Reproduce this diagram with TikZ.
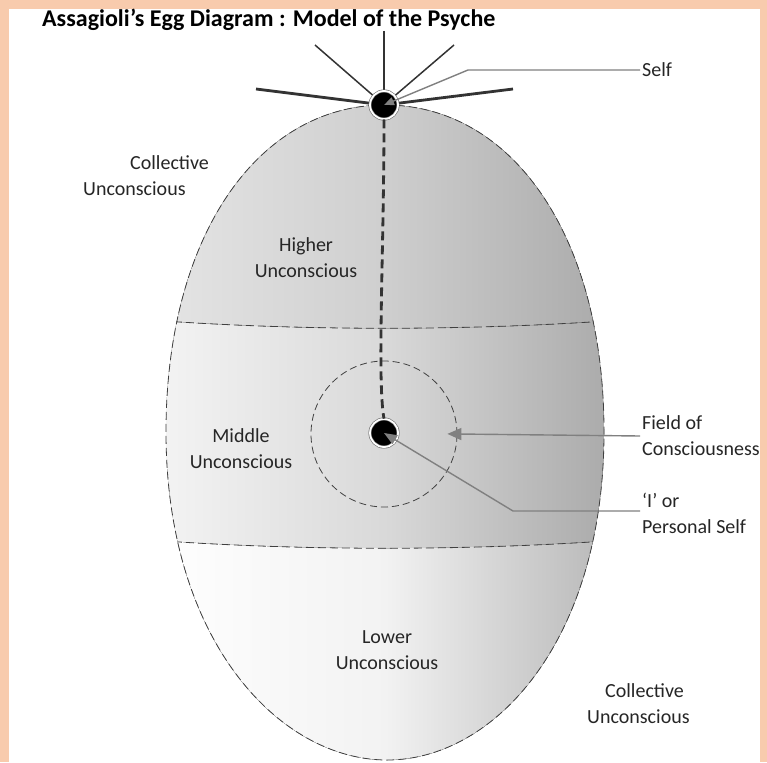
\documentclass[tikz,border=0pt]{standalone}
\usepackage{fontspec}
\setmainfont{Carlito}
\usetikzlibrary{arrows.meta}
\definecolor{peach}{RGB}{248,203,173}
\newcommand\eggoutline{(385,105) .. controls (512,105) and (604,236) .. (604,432)
  .. controls (604,640) and (495,760) .. (387,760)
  .. controls (279,760) and (166,640) .. (166,432)
  .. controls (166,236) and (258,105) .. (385,105) -- cycle}
\tikzset{
  zone/.style={font=\fontsize{20}{26}\selectfont, text=black!85, align=center, inner sep=0pt},
  side/.style={zone, align=left, anchor=west},
  leader/.style={draw=black!50, line width=1.4pt, -{Triangle[length=13pt,width=10pt]}},
  ray/.style={draw=black!80, line width=1.5pt},
  thickray/.style={draw=black!80, line width=2.8pt},
  dot/.style={circle, fill=black, draw=black!60, double=white, double distance=1.8pt,
    line width=0.6pt, minimum size=28pt, inner sep=0pt},
  divider/.style={draw=black!75, line width=0.8pt, dash pattern=on 8pt off 4pt}
}
\begin{document}
\begin{tikzpicture}[x=1pt, y=-1pt]
\useasboundingbox (0,0) rectangle (767,762);
\fill[peach] (0,0) rectangle (767,762);
\fill[white] (9,9) rectangle (760,762);

% shaded egg, three bands
\begin{scope}
\clip \eggoutline;
\fill[left color=gray!8, right color=gray!68, middle color=gray!30] (150,90) rectangle (620,770);
\fill[left color=gray!20, right color=gray!68, middle color=gray!38] (150,90) -- (620,90) -- (620,320)
  .. controls (470,331) and (300,331) .. (150,320) -- cycle;
\fill[left color=white, right color=gray!58, middle color=gray!10] (150,540)
  .. controls (300,551) and (470,551) .. (620,540) -- (620,770) -- (150,770) -- cycle;
\draw[divider] (150,320) .. controls (300,331) and (470,331) .. (620,320);
\draw[divider] (150,540) .. controls (300,551) and (470,551) .. (620,540);
\end{scope}
\draw[divider] \eggoutline;

\node[font=\bfseries\fontsize{24}{28}\selectfont, anchor=west, inner sep=0pt] (title) at (42,20)
  {Assagioli's Egg Diagram : Model of the Psyche};

% field of consciousness
\node[circle, draw=black!75, line width=0.8pt, dash pattern=on 7pt off 4pt,
  minimum size=146pt, inner sep=0pt] (field) at (384,434) {};

% rays round the Self
\coordinate (rayn) at (384,31);
\coordinate (raynw) at (315,45);
\coordinate (rayne) at (454,45);
\coordinate (rayw) at (256,89);
\coordinate (raye) at (513,89);
\coordinate (selfc) at (384,105);
\draw[ray] (rayn) -- (selfc);
\draw[ray] (raynw) -- (selfc);
\draw[ray] (rayne) -- (selfc);
\draw[thickray] (rayw) -- (selfc);
\draw[thickray] (raye) -- (selfc);

\node[dot] (self) at (selfc) {};
\node[dot] (i) at (384,433) {};
\draw[draw=black!80, line width=2.8pt, dash pattern=on 9pt off 5pt]
  (self.south) .. controls (384,250) and (377,380) .. (i.north);

% region labels
\node[side] (coltop) at (83,176) {\hspace*{47pt}Collective\\Unconscious};
\node[zone] (higher) at (306,258) {Higher\\Unconscious};
\node[zone] (middle) at (241,449) {Middle\\Unconscious};
\node[zone] (lower) at (387,650) {Lower\\Unconscious};
\node[side] (colbot) at (587,704) {\hspace*{18pt}Collective\\Unconscious};

% side labels and leaders
\node[side, inner xsep=2pt] (selflbl) at (640,70) {Self};
\node[side, inner xsep=2pt] (fieldlbl) at (640,436) {Field of\\Consciousness};
\node[side, inner xsep=2pt] (ilbl) at (640,513) {‘I’ or\\Personal Self};
\coordinate (selfbend) at (468,70);
\coordinate (ibend) at (513,511);
\draw[leader, -{Triangle[length=10pt,width=8pt]}] (selflbl.west) -- (selfbend) -- (self.center);
\draw[leader, -{Triangle[length=14pt,width=12pt]}] (fieldlbl.west) -- (field.east) [shorten >=-10pt];
\draw[leader] (ilbl.west |- ibend) -- (ibend) -- (i.center);
\end{tikzpicture}
\end{document}
